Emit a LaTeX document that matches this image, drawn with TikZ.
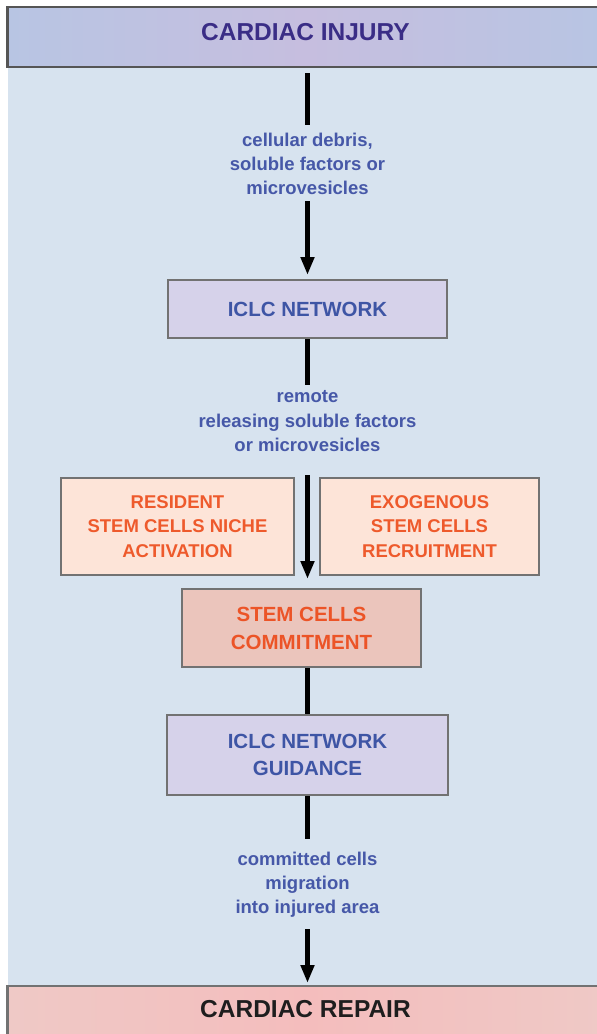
\documentclass[tikz,border=0pt]{standalone}
\usepackage{fontspec}
\setmainfont{Liberation Sans}
\usepackage{tikz}
\usetikzlibrary{arrows.meta,shapes}

\definecolor{bgblue}{HTML}{D7E3EF}
\definecolor{injfill}{HTML}{B8C5E3}
\definecolor{injmid}{HTML}{C6BEDF}
\definecolor{injtext}{HTML}{3A2D86}
\definecolor{iclcfill}{HTML}{D6D2EA}
\definecolor{iclctext}{HTML}{3E55A5}
\definecolor{cuetext}{HTML}{4658A8}
\definecolor{stemfill}{HTML}{FDE4D8}
\definecolor{stemtext}{HTML}{EE5A2C}
\definecolor{commitfill}{HTML}{EBC5BC}
\definecolor{committext}{HTML}{EC5427}
\definecolor{repairfill}{HTML}{EFC9C6}
\definecolor{repairmid}{HTML}{F4BDBD}
\definecolor{repairtext}{HTML}{1E1E1E}
\definecolor{boxline}{HTML}{727272}
\definecolor{bandline}{HTML}{555555}

\begin{document}
\begin{tikzpicture}[
    x=1pt, y=-1pt,
    band/.style={rectangle, draw=bandline, line width=2.2pt, minimum width=596pt, minimum height=60pt, text depth=11pt, font=\bfseries\fontsize{24.5}{28}\selectfont},
    netbox/.style={rectangle, draw=boxline, line width=2pt, fill=iclcfill, text=iclctext, align=center, font=\bfseries\fontsize{20.5}{27}\selectfont},
    stembox/.style={rectangle, draw=boxline, line width=2pt, fill=stemfill, text=stemtext, align=center, minimum height=97pt, font=\bfseries\fontsize{18.5}{24.5}\selectfont},
    cue/.style={align=center, text=cuetext, inner sep=7pt, font=\bfseries\fontsize{18.5}{24}\selectfont},
    link/.style={line width=4.5pt, color=black},
    arrow/.style={link, -{Triangle[width=13pt,length=18pt]}}
]

    % Frame
    \useasboundingbox (0,0) rectangle (597,1034);
    \fill[white] (0,0) rectangle (597,1034);
    \fill[bgblue] (8,67) rectangle (597,985);

    % Nodes
    \node[band, left color=injfill, right color=injfill, middle color=injmid, text=injtext] (injury) at (305.5,37) {CARDIAC INJURY};
    \node[cue] (debris) at (307.5,163.4) {cellular debris,\\soluble factors or\\microvesicles};
    \node[netbox, minimum width=279pt, minimum height=58pt] (iclc) at (307.5,309) {ICLC NETWORK};
    \node[cue, inner sep=5pt, font=\bfseries\fontsize{18.5}{24.5}\selectfont] (remote) at (307.5,421.3) {remote\\releasing soluble factors\\or microvesicles};
    \node[stembox, minimum width=233pt] (resident) at (177.5,526.5) {RESIDENT\\STEM CELLS NICHE\\ACTIVATION};
    \node[stembox, minimum width=219pt] (exogenous) at (429.5,526.5) {EXOGENOUS\\STEM CELLS\\RECRUITMENT};
    \node[stembox, minimum width=239pt, minimum height=78pt, fill=commitfill, text=committext, font=\bfseries\fontsize{20.5}{28}\selectfont] (commit) at (301.5,628) {STEM CELLS\\COMMITMENT};
    \node[netbox, minimum width=281pt, minimum height=80pt] (guide) at (307.5,755) {ICLC NETWORK\\GUIDANCE};
    \node[cue, inner sep=12pt] (migration) at (307.5,884.3) {committed cells\\migration\\into injured area};
    \node[band, anchor=north, minimum height=56pt, draw=boxline, left color=repairfill, right color=repairfill, middle color=repairmid, text=repairtext] (repair) at (305.5,985) {CARDIAC REPAIR};

    % Arrows
    \draw[link, shorten <=5pt] (debris.north |- injury.south) -- (debris.north);
    \draw[arrow, shorten >=4pt] (debris.south) -- (iclc.north);
    \draw[link] (iclc.south) -- (remote.north);
    \draw[arrow, shorten <=18pt, shorten >=9pt] (remote.south) -- (remote.south |- commit.north);
    \draw[link] (commit.south -| guide.north) -- (guide.north);
    \draw[link] (guide.south) -- (migration.north);
    \draw[arrow, shorten >=2pt] (migration.south) -- (migration.south |- repair.north);

\end{tikzpicture}
\end{document}
